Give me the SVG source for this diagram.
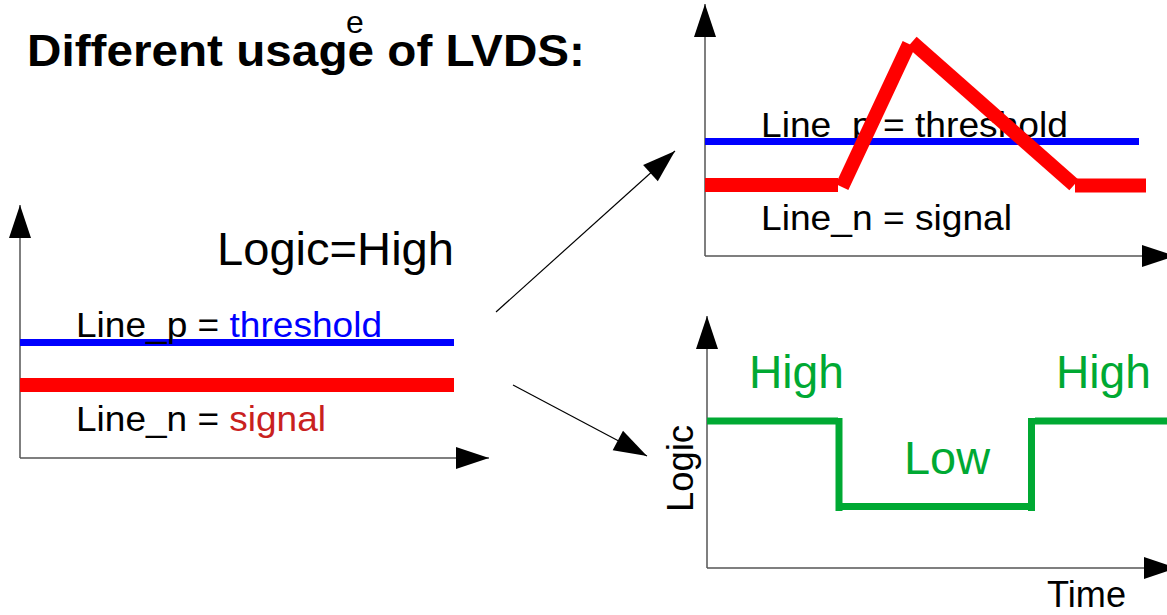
<svg xmlns="http://www.w3.org/2000/svg" width="1167" height="615" viewBox="0 0 1167 615">
  <style>
    .t { font-family: "Liberation Sans", Arial, sans-serif; fill: #000; }
    .axis { stroke: #555; stroke-width: 1.5; fill: none; marker-end: url(#ah); }
    .conn { stroke: #000; stroke-width: 1.2; fill: none; marker-end: url(#ah); }
    .red { stroke: #ff0000; stroke-width: 14; fill: none; stroke-linecap: butt; }
    .blue { stroke: #0000ff; stroke-width: 7; fill: none; }
    .green { stroke: #00a933; stroke-width: 7; fill: none; stroke-linecap: butt; }
    .gt { fill: #00a933; }
  </style>
  <defs>
    <marker id="ah" markerUnits="userSpaceOnUse" markerWidth="34" markerHeight="22" refX="33" refY="11" orient="auto" overflow="visible">
      <path d="M0,0 L33,11 L0,22 Z" fill="#000"/>
    </marker>
  </defs>
  <rect width="1167" height="615" fill="#fff"/>

  <g id="title">
    <text class="t" x="27" y="66" font-size="44" font-weight="bold" textLength="558" lengthAdjust="spacingAndGlyphs">Different usage of LVDS:</text>
    <text class="t" x="346" y="33" font-size="32">e</text>
  </g>

  <g id="left-chart">
    <line class="axis" x1="20" y1="458" x2="20" y2="205"/>
    <line class="axis" x1="20" y1="458" x2="489" y2="458"/>
    <line class="blue" x1="20" y1="342.5" x2="454" y2="342.5"/>
    <line class="red" x1="20" y1="385" x2="454" y2="385"/>
    <text class="t" x="217" y="265" font-size="46" textLength="237" lengthAdjust="spacingAndGlyphs">Logic=High</text>
    <text class="t" x="76" y="337" font-size="35" textLength="306" lengthAdjust="spacingAndGlyphs">Line_p = <tspan fill="#0000ff">threshold</tspan></text>
    <text class="t" x="76" y="430.5" font-size="35" textLength="250" lengthAdjust="spacingAndGlyphs">Line_n = <tspan fill="#c9211e">signal</tspan></text>
  </g>

  <g id="top-right-chart">
    <line class="axis" x1="705" y1="256" x2="705" y2="4"/>
    <line class="axis" x1="705" y1="256" x2="1175" y2="256"/>
    <text class="t" x="761" y="137" font-size="35" textLength="307" lengthAdjust="spacingAndGlyphs">Line_p = threshold</text>
    <text class="t" x="761" y="230" font-size="35" textLength="251" lengthAdjust="spacingAndGlyphs">Line_n = signal</text>
    <line class="blue" x1="705" y1="141.5" x2="1139" y2="141.5"/>
    <line class="red" x1="705" y1="185" x2="838" y2="185"/>
    <line class="red" x1="842" y1="187" x2="909" y2="44"/>
    <line class="red" x1="912" y1="42" x2="1074" y2="185"/>
    <line class="red" x1="1075" y1="185.5" x2="1146" y2="185.5"/>
  </g>

  <g id="bottom-right-chart">
    <line class="axis" x1="707" y1="568" x2="707" y2="316"/>
    <line class="axis" x1="707" y1="568" x2="1177" y2="568"/>
    <line class="green" x1="707" y1="421" x2="838" y2="421"/>
    <line class="green" x1="839" y1="418" x2="839" y2="511"/>
    <line class="green" x1="839" y1="506.5" x2="1031" y2="506.5"/>
    <line class="green" x1="1031.5" y1="418" x2="1031.5" y2="511"/>
    <line class="green" x1="1035" y1="421" x2="1167" y2="421"/>
    <text class="t gt" x="749" y="388" font-size="46" textLength="95" lengthAdjust="spacingAndGlyphs">High</text>
    <text class="t gt" x="1056" y="388" font-size="46" textLength="95" lengthAdjust="spacingAndGlyphs">High</text>
    <text class="t gt" x="904" y="474" font-size="46" textLength="86" lengthAdjust="spacingAndGlyphs">Low</text>
    <text class="t" transform="translate(692.5,512) rotate(-90)" x="0" y="0" font-size="37" textLength="87" lengthAdjust="spacingAndGlyphs">Logic</text>
    <text class="t" x="1047" y="607" font-size="36" textLength="79" lengthAdjust="spacingAndGlyphs">Time</text>
  </g>

  <g id="connectors">
    <line class="conn" x1="496" y1="312" x2="675" y2="151"/>
    <line class="conn" x1="513" y1="385" x2="647" y2="456"/>
  </g>
</svg>
